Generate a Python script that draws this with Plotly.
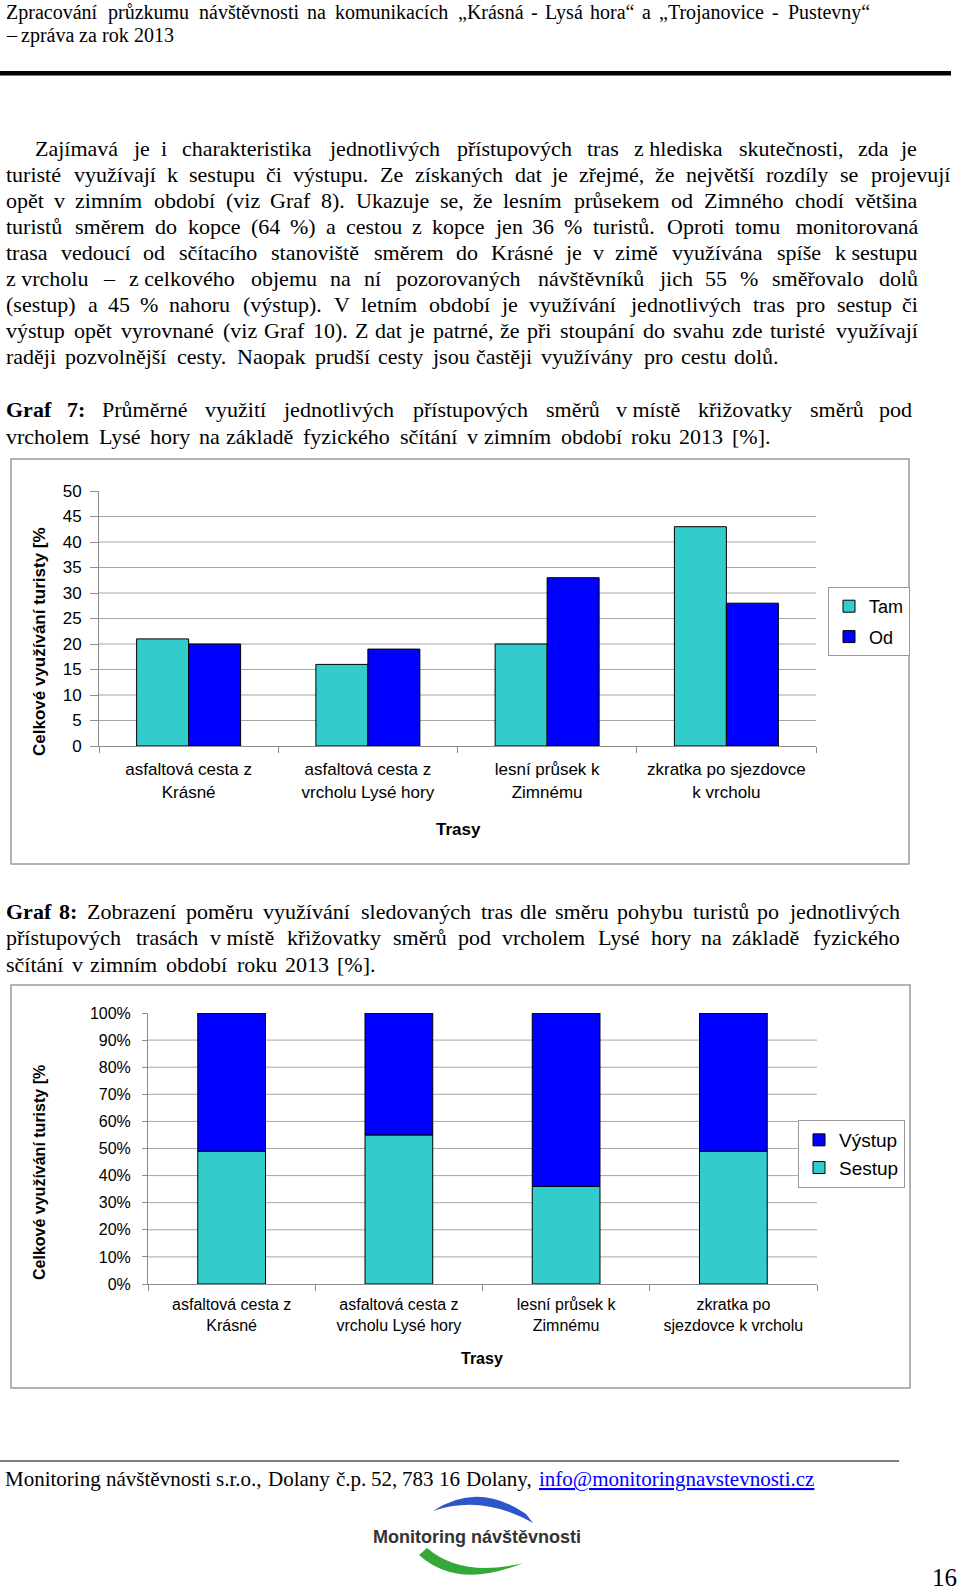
import unicodedata
import plotly.graph_objects as go

W, H = 960, 1592
SERIF = "Liberation Serif, Times New Roman, serif"
SANS = "Liberation Sans, Arial, Helvetica, sans-serif"

# ------------------------------------------------------------------ data
routes = ["asfaltová cesta z Krásné", "asfaltová cesta z vrcholu Lysé hory",
          "lesní průsek k Zimnému", "zkratka po sjezdovce k vrcholu"]
routes_g7 = ["asfaltová cesta z<br>Krásné", "asfaltová cesta z<br>vrcholu Lysé hory",
             "lesní průsek k<br>Zimnému", "zkratka po sjezdovce<br>k vrcholu"]
routes_g8 = ["asfaltová cesta z<br>Krásné", "asfaltová cesta z<br>vrcholu Lysé hory",
             "lesní průsek k<br>Zimnému", "zkratka po<br>sjezdovce k vrcholu"]
tam = [21, 16, 20, 43]
od = [20, 19, 33, 28]
sestup = [49, 55, 36, 49]
vystup = [51, 45, 64, 51]
g7_ticks = [0, 5, 10, 15, 20, 25, 30, 35, 40, 45, 50]
g8_ticks = [0, 10, 20, 30, 40, 50, 60, 70, 80, 90, 100]
g8_ticklabels = ["0%", "10%", "20%", "30%", "40%", "50%", "60%", "70%", "80%", "90%", "100%"]
y_title = "Celkové využívání turisty [%"
x_title = "Trasy"

header_lines = ["Zpracování průzkumu návštěvnosti na komunikacích „Krásná - Lysá hora“ a „Trojanovice - Pustevny“",
                "– zpráva za rok 2013"]
para_lines = [
    "Zajímavá je i charakteristika jednotlivých přístupových tras z\u00a0hlediska skutečnosti, zda je",
    "turisté využívají k sestupu či výstupu. Ze získaných dat je zřejmé, že největší rozdíly se projevují",
    "opět v zimním období (viz Graf 8). Ukazuje se, že lesním průsekem od Zimného chodí většina",
    "turistů směrem do kopce (64 %) a cestou z kopce jen 36 % turistů. Oproti tomu monitorovaná",
    "trasa vedoucí od sčítacího stanoviště směrem do Krásné je v zimě využívána spíše k\u00a0sestupu",
    "z\u00a0vrcholu – z\u00a0celkového objemu na ní pozorovaných návštěvníků jich 55 % směřovalo dolů",
    "(sestup) a 45 % nahoru (výstup). V letním období je využívání jednotlivých tras pro sestup či",
    "výstup opět vyrovnané (viz Graf 10). Z dat je patrné, že při stoupání do svahu zde turisté využívají",
    "raději pozvolnější cesty. Naopak prudší cesty jsou častěji využívány pro cestu dolů.",
]
cap7_lines = ["Graf 7: Průměrné využití jednotlivých přístupových směrů v\u00a0místě křižovatky směrů pod",
              "vrcholem Lysé hory na základě fyzického sčítání v zimním období roku 2013 [%]."]
cap8_lines = ["Graf 8: Zobrazení poměru využívání sledovaných tras dle směru pohybu turistů po jednotlivých",
              "přístupových trasách v\u00a0místě křižovatky směrů pod vrcholem Lysé hory na základě fyzického",
              "sčítání v zimním období roku 2013 [%]."]
footer_text = "Monitoring návštěvnosti s.r.o., Dolany č.p. 52, 783 16 Dolany, info@monitoringnavstevnosti.cz"
footer_email = "info@monitoringnavstevnosti.cz"
logo_text = "Monitoring návštěvnosti"
page_no = "16"

# ------------------------------------------------------------------ helpers
TIMES = dict(zip("abcdefghijklmnopqrstuvwxyz",
                 [444, 500, 444, 500, 444, 333, 500, 500, 278, 278, 500, 278, 778,
                  500, 500, 500, 500, 333, 389, 278, 500, 500, 722, 500, 500, 444]))
TIMES.update(zip("ABCDEFGHIJKLMNOPQRSTUVWXYZ",
                 [722, 667, 667, 722, 611, 556, 722, 722, 333, 389, 722, 611, 889,
                  722, 722, 556, 722, 667, 556, 611, 722, 722, 944, 722, 722, 611]))
TIMES.update({d: 500 for d in "0123456789"})
TIMES.update({" ": 250, ".": 250, ",": 250, "(": 333, ")": 333, ":": 278, "%": 833,
              "[": 333, "]": 333, "–": 500, "„": 444, "“": 444, "@": 921, "-": 333})


def base_char(c):
    if c == "\u00a0":
        return " "
    return unicodedata.normalize("NFD", c)[0]


def units(s):
    return sum(TIMES.get(base_char(c), 500) for c in s)


def px(x):
    return x / W


def py(y):
    return 1 - y / H


annotations = []


def text_at(text, x, y, size, family=SERIF, color="black", xanchor="center", angle=0):
    annotations.append(dict(text=text, x=px(x), y=py(y), xref="paper", yref="paper",
                            xanchor=xanchor, yanchor="middle", showarrow=False, borderpad=0,
                            textangle=angle, font=dict(family=family, size=size, color=color)))


def place_line(line, x0, y, size, hs, x1=None, nbold=0, fmt=None):
    words = line.split(" ")
    ws = [units(w) * hs / 1000 * (1.12 if i < nbold else 1.0) for i, w in enumerate(words)]
    justified = x1 is not None and len(words) > 1
    if justified:
        gap = (x1 - x0 - sum(ws)) / (len(words) - 1)
    else:
        gap = 250 * hs / 1000
    x = x0
    n = len(words)
    for i, (w, wd) in enumerate(zip(words, ws)):
        t, col = w, "black"
        if i < nbold:
            t = "<b>" + t + "</b>"
        if fmt:
            t, col = fmt(w, t, col)
        if i == 0 or not justified:
            text_at(t, x, y, size, color=col, xanchor="left")
        elif i == n - 1:
            text_at(t, x1, y, size, color=col, xanchor="right")
        else:
            text_at(t, x + wd / 2, y, size, color=col)
        x += wd + gap


# ------------------------------------------------------------------ figure
C_LIGHT = "#33CCCC"
C_DARK = "#0000FF"
AX = "#8C8C8C"
GRID = "#A6A6A6"
outline = dict(color="#000000", width=1)

fig = go.Figure()
fig.add_bar(x=routes, y=tam, name="Tam", xaxis="x", yaxis="y", width=0.29, offset=-0.29,
            marker=dict(color=C_LIGHT, line=outline), legend="legend", legendgroup="tam")
fig.add_bar(x=routes, y=od, name="Od", xaxis="x", yaxis="y", width=0.29, offset=0.0,
            marker=dict(color=C_DARK, line=outline), legend="legend", legendgroup="od")
fig.add_bar(x=routes, y=sestup, name="Sestup", xaxis="x2", yaxis="y2", width=0.405, offset=-0.2025,
            marker=dict(color=C_LIGHT, line=outline), legend="legend2")
fig.add_bar(x=routes, y=vystup, base=sestup, name="Výstup", xaxis="x2", yaxis="y2", width=0.405,
            offset=-0.2025, marker=dict(color=C_DARK, line=outline), legend="legend2")


def xaxis(dom, anchor, labels, size, standoff):
    return dict(domain=dom, anchor=anchor, type="category", categoryorder="array",
                categoryarray=routes, range=[-0.5, len(routes) - 0.5], tickmode="array",
                tickvals=routes, ticktext=labels, tickson="boundaries", ticks="outside",
                ticklen=6, tickcolor=AX, showline=True, linecolor=AX, linewidth=1,
                showgrid=False, zeroline=False, ticklabelstandoff=standoff, automargin=False,
                tickfont=dict(family=SANS, size=size, color="black"))


def yaxis(dom, anchor, ticks, labels, rng, size, ticklen, standoff):
    return dict(domain=dom, anchor=anchor, range=rng, tickmode="array", tickvals=ticks,
                ticktext=labels, ticks="outside", ticklen=ticklen, tickcolor=AX,
                showline=True, linecolor=AX, linewidth=1, showgrid=False, zeroline=False,
                ticklabelstandoff=standoff, automargin=False,
                tickfont=dict(family=SANS, size=size, color="black"))


shapes = []
# gridlines (no line at the top tick, as in the original)
for v in g7_ticks[1:-1]:
    shapes.append(dict(type="line", xref="x domain", yref="y", x0=0, x1=1, y0=v, y1=v,
                       line=dict(color=GRID, width=1), layer="below"))
for v in g8_ticks[1:-1]:
    shapes.append(dict(type="line", xref="x2 domain", yref="y2", x0=0, x1=1, y0=v, y1=v,
                       line=dict(color=GRID, width=1), layer="below"))


def rect(x0, y0, x1, y1, color="#9A9A9A", width=1.5, fill="rgba(0,0,0,0)"):
    shapes.append(dict(type="rect", xref="paper", yref="paper", x0=px(x0), x1=px(x1),
                       y0=py(y1), y1=py(y0), line=dict(color=color, width=width),
                       fillcolor=fill, layer="below"))


rect(11, 459, 909, 864)
rect(11, 985, 910, 1388)
# header rule and footer rule
shapes.append(dict(type="rect", xref="paper", yref="paper", x0=px(0), x1=px(951),
                   y0=py(75.5), y1=py(71), line=dict(width=0), fillcolor="black"))
shapes.append(dict(type="line", xref="paper", yref="paper", x0=px(0), x1=px(899),
                   y0=py(1461), y1=py(1461), line=dict(color="black", width=1)))


def path(cmds):
    out = []
    for c in cmds:
        if isinstance(c, str):
            out.append(c)
        else:
            out.append(f"{px(c[0]):.5f},{py(c[1]):.5f}")
    return " ".join(out)


# logo arcs
shapes.append(dict(type="path", xref="paper", yref="paper",
                   path=path(["M", (433, 1511), "Q", (478, 1481), (526, 1514), "L", (533, 1523),
                              "Q", (482, 1494), (433, 1511), "Z"]),
                   fillcolor="#2F55CC", line=dict(width=0)))
shapes.append(dict(type="path", xref="paper", yref="paper",
                   path=path(["M", (427, 1548), "Q", (462, 1578), (523, 1563),
                              "Q", (458, 1590), (419, 1555), "Z"]),
                   fillcolor="#35A83A", line=dict(width=0)))

# ------------------------------------------------------------------ texts
BODY = 22
HS = 23.2
# header
place_line(header_lines[0], 5, 12.5, 20, 21.0, x1=871)
place_line(header_lines[1], 5, 35, 20, 20.0)

# paragraph
para_ends = [918, 951, 919, 919, 919, 919, 919, 919, None]
for i, (line, end) in enumerate(zip(para_lines, para_ends)):
    x0 = 34 if i == 0 else 5
    place_line(line, x0, 148 + 26.1 * i, BODY, HS, x1=end)

# captions
place_line(cap7_lines[0], 5, 409, BODY, HS, x1=913, nbold=2)
place_line(cap7_lines[1], 5, 436, BODY, HS)
place_line(cap8_lines[0], 5, 911, BODY, HS, x1=901, nbold=2)
place_line(cap8_lines[1], 5, 937.5, BODY, HS, x1=901)
place_line(cap8_lines[2], 5, 964, BODY, HS)


def email_fmt(w, t, col):
    if w == footer_email:
        return "<u>" + t + "</u>", "#0000FF"
    return t, col


place_line(footer_text, 4, 1479, 21, 21.1, x1=815, fmt=email_fmt)

# chart titles
text_at("<b>" + y_title + "</b>", 40, 642, 17, family=SANS, angle=-90)
text_at("<b>" + x_title + "</b>", 458, 830, 17, family=SANS)
text_at("<b>" + y_title + "</b>", 39, 1173, 16, family=SANS, angle=-90)
text_at("<b>" + x_title + "</b>", 482, 1358, 16, family=SANS)

# logo + page number
text_at("<b>" + logo_text + "</b>", 477, 1537, 18, family=SANS, color="#333333")
text_at(page_no, 958, 1577, 25, xanchor="right")

fig.update_layout(
    template="none",
    width=W, height=H, margin=dict(l=0, r=0, t=0, b=0, pad=0, autoexpand=False), autosize=False,
    paper_bgcolor="white", plot_bgcolor="white", hovermode=False,
    barmode="group", showlegend=True,
    xaxis=xaxis([px(99), px(816)], "y", routes_g7, 17, 8),
    yaxis=yaxis([py(746), py(491)], "x", g7_ticks, [str(v) for v in g7_ticks], [0, 50], 17, 8, 5),
    xaxis2=xaxis([px(148), px(817)], "y2", routes_g8, 16, 6),
    yaxis2=yaxis([py(1284), py(1013)], "x2", g8_ticks, g8_ticklabels, [0, 100], 16, 5, 8),
    legend=dict(x=px(828), y=py(587), xanchor="left", yanchor="top", bgcolor="white",
                bordercolor="#9A9A9A", borderwidth=1, itemwidth=30, tracegroupgap=4,
                traceorder="grouped", font=dict(family=SANS, size=18, color="black")),
    legend2=dict(x=px(798), y=py(1120), xanchor="left", yanchor="top", bgcolor="white",
                 bordercolor="#9A9A9A", borderwidth=1, itemwidth=30,
                 traceorder="reversed", font=dict(family=SANS, size=19, color="black")),
    shapes=shapes, annotations=annotations,
)

fig.write_html("out.html", post_script="document.body.style.margin='0';")
